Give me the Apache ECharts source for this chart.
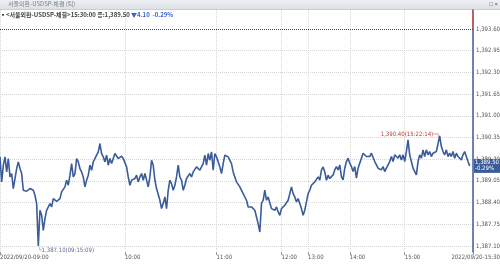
<!DOCTYPE html>
<html><head><meta charset="utf-8">
<script src="https://cdn.jsdelivr.net/npm/echarts@6/dist/echarts.min.js"></script>
<style>html,body{margin:0;padding:0;background:#fff}#c{width:500px;height:267px}</style>
</head><body><div id="c"></div>
<script>
const chartTitle = '서울외환-USDSP-체결 (틱)';
const symbolName = '<서울외환-USDSP-체결>';
const lastTime = '15:30:00';
const closePrice = 1389.50;
const prevClose = 1393.60;
const change = -4.10;
const changePct = -0.29;
const minTime = '09:15:09';
const maxTime = '15:22:14';

const prices = [
1389.77,1389.02,1389.52,1389.77,1389.32,1389.72,1389.17,1389.27,1388.82,1389.12,
1389.42,1389.62,1389.42,1389.27,1388.77,1388.72,1388.74,1388.77,1388.82,1388.87,
1388.77,1388.62,1388.37,1387.10,1388.17,1388.02,1387.57,1387.92,1388.17,1388.12,
1388.37,1388.27,1388.52,1388.47,1388.44,1388.47,1388.52,1388.72,1388.77,1388.87,
1389.07,1388.92,1389.22,1389.57,1389.17,1389.27,1389.72,1389.62,1389.42,1389.32,
1389.17,1388.87,1389.07,1389.22,1389.52,1389.37,1389.62,1389.72,1389.82,1389.92,
1390.17,1389.87,1389.77,1389.62,1389.82,1389.52,1389.72,1389.57,1389.72,1389.87,
1389.82,1389.72,1389.77,
1389.79,1389.72,1389.67,1389.47,1389.17,1388.92,1389.07,1389.02,1389.12,1389.22,
1389.02,1389.17,1389.27,1389.07,1389.27,1389.32,1388.87,1389.17,1389.67,1389.52,
1389.07,1388.82,1388.77,1388.47,1388.22,1388.37,1388.57,1388.22,1388.77,1389.07,
1388.97,1388.77,1388.92,1389.17,1389.52,1389.17,1389.07,1388.77,1388.92,1389.12,
1389.17,1389.27,1389.17,1389.32,1389.37,1389.47,1389.42,1389.37,1389.47,1389.57,
1389.82,1389.52,1389.87,1389.67,1389.92,1389.37,1389.87,1389.77,1389.62,1389.47,
1389.27,1389.57,1389.82,1389.87,1389.77,1389.82,1389.57,1389.32,1389.17,1389.02,
1389.07,1388.87,1388.92,1388.67,1388.72,1388.47,1388.27,1388.22,1388.27,1388.22,
1388.17,1387.97,1387.77,1387.52,1388.37,1388.47,1388.77,1388.47,1388.57,1388.62,
1388.22,1388.27,1388.17,1388.27,1388.12,1388.02,1388.22,1388.27,1388.32,1388.37,
1388.47,1388.67,1388.87,1388.67,1388.57,1388.42,1388.52,1388.37,1388.22,1388.02,
1388.17,1388.42,1388.67,1388.77,1388.92,1388.87,1389.02,1389.07,1389.17,1389.07,
1389.37,1389.47,1389.32,1389.07,1389.22,1389.12,
1389.13,1389.23,1389.38,1389.48,1389.38,1389.53,1389.18,1389.08,1389.43,1389.63,
1389.73,1389.58,1389.48,1389.33,1389.48,1389.13,1389.43,1389.58,1389.73,1389.88,
1389.83,1389.78,1389.83,1389.78,1389.88,1389.83,1389.63,1389.53,1389.43,1389.48,
1389.38,1389.48,1389.33,1389.43,1389.53,1389.63,1389.78,1389.63,1389.83,1389.88,
1389.73,1389.83,1389.68,1389.83,1389.63,1389.93,1390.28,1389.83,1389.63,1389.43,
1389.33,1389.23,1389.63,1389.83,1389.73,1389.98,1389.78,1389.98,1389.83,1389.93,
1389.78,1389.88,1389.83,1389.93,1389.98,1390.40,1390.08,1389.93,1389.83,1389.98,
1389.78,1389.88,1389.78,1389.93,1389.73,1389.88,1389.78,1389.83,1389.68,1389.83,
1389.93,1389.78,1389.63,1389.50
];

const yTicks = [1387.10,1387.75,1388.40,1389.05,1389.70,1390.35,1391.00,1391.65,1392.30,1392.95,1393.60];
const xTickIndex = [0,75,130,169,185,210,243,284];
const xTickLabels = ['2022/09/20-09:00','10:00','11:00','12:00','13:00','14:00','15:00','2022/09/20-15:30'];

const FONT = "'Liberation Sans Narrow','DejaVu Sans Condensed','Roboto',sans-serif";
const KFONT = "'Noto Sans CJK KR','Noto Sans',sans-serif";
const FS = 6;
const BLUE = '#3b5c9a';
const fmt = v => Number(v).toFixed(2).replace(/\B(?=(\d{3})+(?!\d))/g, ',');

const chart = echarts.init(document.getElementById('c'), null, {renderer:'canvas'});
chart.setOption({
  animation:false,
  backgroundColor:'#fff',
  title:[
    {text:chartTitle, left:8, top:1, padding:0, z:10,
     textStyle:{fontSize:FS, color:'#7a7f88', fontWeight:'normal', fontFamily:KFONT}},
    {text:'{m|▪}{a|'+symbolName+lastTime+' 종:'+fmt(closePrice)+' }{b|▼'+Math.abs(change).toFixed(2)+'  '+changePct.toFixed(2)+'%}',
     left:0, top:12, padding:0, z:10,
     textStyle:{rich:{
       m:{fontSize:FS, color:'#222', fontFamily:KFONT},
       a:{fontSize:FS, color:'#444', fontFamily:KFONT},
       b:{fontSize:FS, color:'#3a64c8', fontFamily:KFONT}
     }}},
    {text:'□ ×', right:2, top:1, padding:0, z:10, textStyle:{fontSize:FS, color:'#555', fontWeight:'normal'}}
  ],
  graphic:[
    {type:'rect', z:-10, shape:{x:0,y:0,width:500,height:9},
     style:{fill:new echarts.graphic.LinearGradient(0,0,0,1,[{offset:0,color:'#eef0f3'},{offset:1,color:'#dde1e6'}])}},
    {type:'line', z:-9, shape:{x1:0,y1:9.5,x2:500,y2:9.5}, style:{stroke:'#c9ced6', lineWidth:1}},
    {type:'line', z:100, shape:{x1:473,y1:10,x2:473,y2:29}, style:{stroke:'#d9534f', lineWidth:1.5}}
  ],
  grid:{left:0, right:27, top:10, bottom:15, outerBoundsMode:'none', containLabel:false},
  xAxis:{
    type:'value', min:0, max:284,
    axisLine:{show:false},
    axisTick:{show:true, customValues:xTickIndex, length:3, lineStyle:{color:'#999'}},
    axisLabel:{customValues:xTickIndex, align:'left', margin:2, fontSize:FS, color:'#555', fontFamily:FONT,
      formatter:(v)=>{const k=xTickIndex.indexOf(v); const s=xTickLabels[k]; return k===xTickIndex.length-1 ? '{e|'+s+'}' : s;},
      rich:{e:{width:27, align:'right', fontSize:FS, color:'#555', fontFamily:FONT}}},
    splitLine:{show:true, lineStyle:{type:'dotted', color:'#d6d6d6'}}
  },
  yAxis:{
    type:'value', position:'right', min:1386.92, max:1394.17,
    axisLine:{show:true, onZero:false, lineStyle:{color:BLUE, width:1.5}},
    axisTick:{show:false, customValues:yTicks},
    axisLabel:{customValues:yTicks, formatter:fmt, fontSize:FS, color:'#555', margin:3, fontFamily:FONT},
    splitLine:{show:true, lineStyle:{type:'dotted', color:'#d6d6d6'}}
  },
  series:[{
    type:'line', data:prices.map((v,i)=>[i,v]), showSymbol:false, symbol:'none',
    lineStyle:{color:BLUE, width:1.6},
    markPoint:{symbol:'circle', symbolSize:0, silent:true, data:[
      {type:'min', valueDim:'y', label:{show:true, position:'right', distance:0, offset:[0,4],
        formatter:p=>'└'+fmt(p.value)+'('+minTime+')', color:'#5a6e93', fontSize:FS, fontFamily:FONT}},
      {type:'max', valueDim:'y', label:{show:true, position:'left', distance:0, offset:[0,-1],
        formatter:p=>fmt(p.value)+'('+maxTime+')─┐', color:'#c0392b', fontSize:FS, fontFamily:FONT}}
    ]},
    markLine:{symbol:'none', silent:true, animation:false, data:[
      {yAxis:prevClose, lineStyle:{type:'dotted', color:'#444', width:1}, label:{show:false}},
      {yAxis:closePrice, lineStyle:{color:'rgba(0,0,0,0)', width:0}, label:{show:true, position:'end', distance:1,
        formatter:fmt(closePrice)+'\n'+changePct.toFixed(2)+'%', backgroundColor:BLUE, color:'#fff',
        fontSize:FS, lineHeight:6, padding:[1,1], fontFamily:FONT}}
    ]}
  }]
});
</script>
</body></html>
